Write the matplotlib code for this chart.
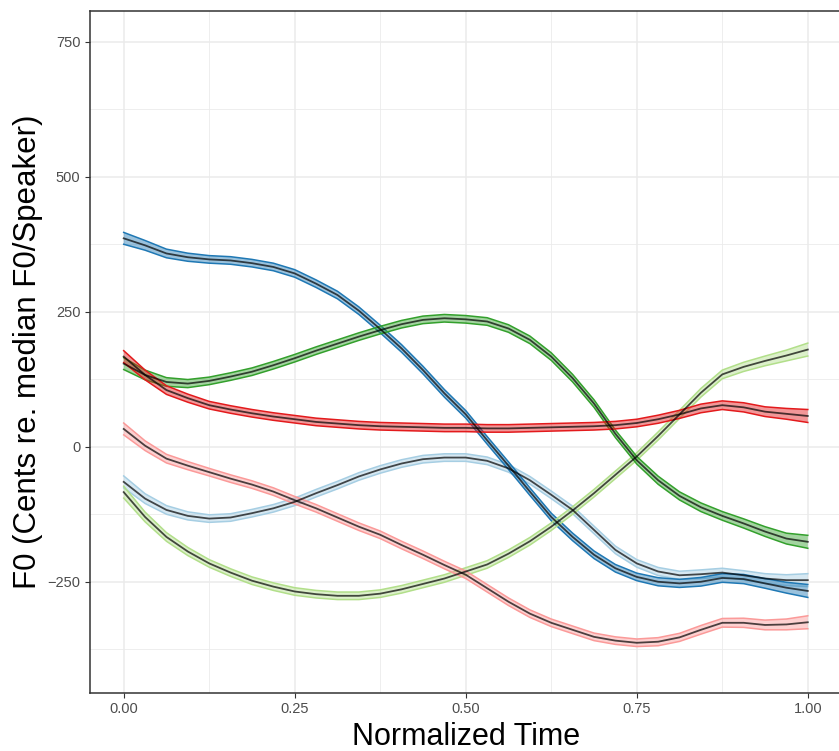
import numpy as np
import matplotlib
matplotlib.use("Agg")
import matplotlib.pyplot as plt
from matplotlib.ticker import MultipleLocator

plt.rcParams["font.family"] = ["Liberation Sans", "DejaVu Sans"]

# normalized time samples (1/32 steps)
time = np.arange(33) / 32

blue = [386, 373, 358, 351, 347, 345, 340, 333, 321, 302, 281, 252, 218, 182, 142, 99, 60,
        12, -35, -83, -130, -167, -200, -225, -241, -250, -253, -250, -243, -245, -253, -261, -267]
green = [154, 133, 120, 117, 122, 130, 139, 151, 164, 178, 191, 204, 216, 227, 235, 238, 236,
         232, 219, 198, 167, 127, 80, 24, -25, -62, -91, -112, -128, -142, -157, -170, -176]
red = [167, 133, 105, 90, 77, 69, 62, 56, 51, 46, 43, 40, 38, 37, 36, 35, 35,
       34, 34, 35, 36, 37, 38, 40, 44, 51, 60, 71, 77, 73, 65, 61, 57]
pink = [33, 2, -22, -35, -47, -59, -70, -83, -99, -114, -131, -148, -163, -182, -200, -219, -237,
        -262, -287, -309, -326, -339, -352, -359, -363, -361, -353, -339, -326, -326, -330, -329, -325]
light_blue = [-65, -96, -117, -128, -133, -131, -123, -114, -102, -86, -71, -55, -42, -31, -23, -20, -20,
              -26, -40, -62, -89, -117, -154, -191, -216, -231, -238, -236, -233, -238, -244, -247, -247]
light_green = [-84, -130, -167, -194, -216, -233, -248, -259, -268, -273, -276, -276, -272, -264, -254, -244, -231,
               -218, -198, -175, -148, -118, -86, -52, -18, 20, 60, 100, 134, 148, 159, 169, 180]

# half width of the confidence band
ci_half = [11, 9, 8, 7.5, 7, 7, 7, 7, 7, 7, 7, 7, 7, 7, 7, 7, 7,
           7, 7, 7, 7, 7, 7, 7, 7, 7.5, 7.5, 8, 8, 8.5, 9, 10, 12]

series = [
    (light_blue, "#A6CEE3"),
    (blue, "#1F78B4"),
    (light_green, "#B2DF8A"),
    (green, "#33A02C"),
    (pink, "#FB9A99"),
    (red, "#E31A1C"),
]

fig = plt.figure(figsize=(8.39, 7.51), dpi=100)
ax = fig.add_axes([89.5 / 839, 58 / 751, 752.5 / 839, 682 / 751])

ci = np.array(ci_half)
for vals, col in series:
    v = np.array(vals, dtype=float)
    ax.fill_between(time, v - ci, v + ci, facecolor=col, alpha=0.45, edgecolor="none", zorder=2)
    ax.plot(time, v - ci, color=col, lw=1.1, zorder=2, solid_joinstyle="round")
    ax.plot(time, v + ci, color=col, lw=1.1, zorder=2, solid_joinstyle="round")
for vals, col in series:
    ax.plot(time, vals, color="black", alpha=0.7, lw=1.3, zorder=3, solid_joinstyle="round")

ax.set_xlim(-0.05, 1.05)
ax.set_ylim(-456, 807)
ax.set_xticks([0, 0.25, 0.5, 0.75, 1.0])
ax.set_xticklabels(["0.00", "0.25", "0.50", "0.75", "1.00"])
ax.set_yticks([-250, 0, 250, 500, 750])
ax.set_yticklabels(["\u2212250", "0", "250", "500", "750"])
ax.xaxis.set_minor_locator(MultipleLocator(0.125))
ax.yaxis.set_minor_locator(MultipleLocator(125))

ax.grid(True, which="major", color="#EBEBEB", lw=1.1, zorder=0)
ax.grid(True, which="minor", color="#EBEBEB", lw=0.6, zorder=0)
ax.set_axisbelow(True)
ax.tick_params(which="major", length=3.5, width=0.8, color="#333333",
               labelcolor="#4D4D4D", labelsize=10.5, pad=3)
ax.tick_params(which="minor", length=0)
for s in ax.spines.values():
    s.set_color("#333333")
    s.set_linewidth(1.1)

ax.set_xlabel("Normalized Time", fontsize=22, labelpad=4)
ax.set_ylabel("F0 (Cents re. median F0/Speaker)", fontsize=22.5, labelpad=3)

fig.savefig("out.png", dpi=100)
